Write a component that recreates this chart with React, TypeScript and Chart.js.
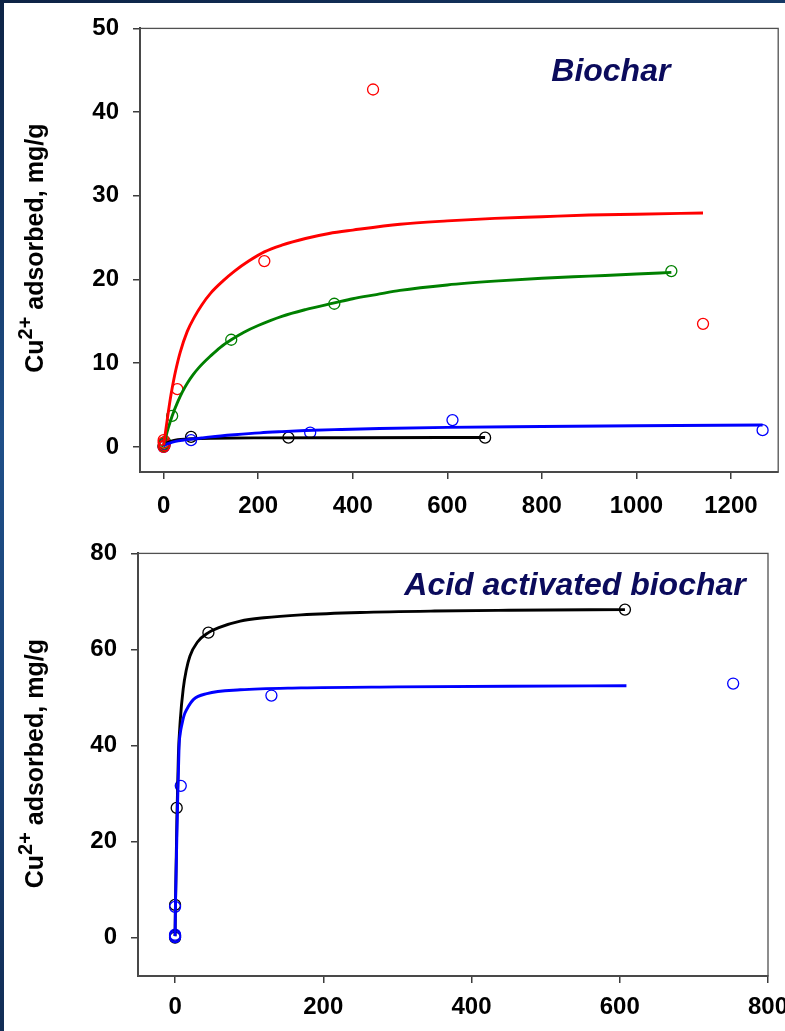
import React, { useEffect, useRef } from 'react';
import { Chart, registerables } from 'chart.js';

Chart.register(...registerables);

const FONT = '"Liberation Sans", Arial, Helvetica, sans-serif';
const INK = '#000000';
const NAVY = '#0b0b5c';
const AXIS = '#3c3c3c';

type Pt = [number, number];

// ---- Biochar: measured uptake (open circles) ----
const biocharRedObs: Pt[] = [[0, 0.0], [0, 0.5], [0, 0.8], [2, 0.2], [29, 6.9], [213, 22.2], [443, 42.7], [1141, 14.7]];
const biocharGreenObs: Pt[] = [[0, 0.1], [1, 0.4], [3, 0.6], [18, 3.7], [143, 12.8], [361, 17.1], [1074, 21.0]];
const biocharBlueObs: Pt[] = [[0, 0.0], [1, 0.1], [2, 0.3], [58, 0.8], [310, 1.7], [611, 3.2], [1267, 2.0]];
const biocharBlackObs: Pt[] = [[0, 0.1], [1, 0.2], [58, 1.2], [264, 1.1], [680, 1.1]];

// ---- Biochar: isotherm fit curves ----
const biocharRedFit: Pt[] = [[0, 0.2], [3, 1.4], [6, 2.6], [10, 4.2], [14, 5.7], [18, 7.0], [25, 9.0], [35, 11.3], [50, 13.8], [65, 15.5], [80, 16.9], [100, 18.4], [125, 19.8], [150, 21.0], [180, 22.2], [213, 23.3], [250, 24.1], [300, 24.9], [350, 25.5], [400, 25.9], [500, 26.6], [600, 27.0], [700, 27.3], [800, 27.5], [900, 27.7], [1000, 27.8], [1141, 27.95]];
const biocharGreenFit: Pt[] = [[0, 0.2], [5, 1.3], [10, 2.3], [18, 3.7], [30, 5.4], [40, 6.6], [50, 7.6], [62, 8.6], [75, 9.5], [100, 10.9], [120, 11.9], [143, 12.8], [170, 13.7], [200, 14.5], [250, 15.6], [300, 16.4], [361, 17.2], [400, 17.7], [450, 18.2], [500, 18.7], [600, 19.35], [700, 19.8], [800, 20.15], [900, 20.4], [1000, 20.65], [1074, 20.85]];
const biocharBlueFit: Pt[] = [[0, 0.1], [5, 0.3], [10, 0.4], [25, 0.65], [40, 0.8], [57, 0.92], [80, 1.07], [100, 1.2], [150, 1.45], [204, 1.68], [250, 1.82], [300, 1.95], [375, 2.08], [457, 2.2], [600, 2.33], [800, 2.43], [1000, 2.52], [1267, 2.62]];
const biocharBlackFit: Pt[] = [[0, 0.2], [5, 0.4], [10, 0.55], [20, 0.74], [30, 0.85], [45, 0.93], [60, 0.97], [100, 1.03], [200, 1.08], [400, 1.1], [680, 1.12]];

const biocharXTicks = [0, 200, 400, 600, 800, 1000, 1200];
const biocharYTicks = [0, 10, 20, 30, 40, 50];

// ---- Acid activated biochar: measured uptake ----
const acidBlackObs: Pt[] = [[0, 0.0], [0, 0.4], [0, 6.8], [2.2, 27.0], [45, 63.5], [607, 68.3]];
const acidBlueObs: Pt[] = [[0, 0.1], [0, 0.3], [0, 0.6], [0, 6.4], [7.7, 31.6], [130, 50.4], [753, 52.9]];

// ---- Acid activated biochar: isotherm fit curves ----
const acidBlackFit: Pt[] = [[0, 0.3], [0.5, 6.5], [2.5, 25], [4.5, 38], [7, 45.2], [11, 51.8], [15, 55.6], [20, 58.6], [30, 61.5], [45, 63.5], [60, 64.6], [88, 65.9], [120, 66.6], [170, 67.2], [250, 67.7], [350, 68.0], [450, 68.15], [607, 68.3]];
const acidBlueFit: Pt[] = [[0, 0.3], [0.5, 6.4], [3, 25], [5.4, 39.7], [7, 42.5], [9, 44.2], [12, 46.2], [15.7, 47.5], [25, 49.6], [43, 50.8], [88, 51.6], [170, 52.0], [300, 52.2], [450, 52.35], [609, 52.45]];

const acidXTicks = [0, 200, 400, 600, 800];
const acidYTicks = [0, 20, 40, 60, 80];

const toXY = (pts: Pt[]) => pts.map(([x, y]) => ({ x, y }));

function observed(label: string, pts: Pt[], color: string) {
  return {
    label,
    data: toXY(pts),
    showLine: false,
    pointStyle: 'circle',
    pointRadius: 5.5,
    pointHoverRadius: 5.5,
    pointBorderWidth: 1.3,
    pointBorderColor: color,
    pointBackgroundColor: 'rgba(0,0,0,0)',
  };
}

function fitted(label: string, pts: Pt[], color: string) {
  return {
    label,
    data: toXY(pts),
    showLine: true,
    borderColor: color,
    borderWidth: 2.9,
    pointRadius: 0,
    pointHoverRadius: 0,
    cubicInterpolationMode: 'monotone',
    fill: false,
  };
}

interface PanelSpec {
  datasets: any[];
  xMin: number; xMax: number; xTicks: number[];
  yMin: number; yMax: number; yTicks: number[];
  yAxisWidth: number; xAxisHeight: number;
  padTop: number; padRight: number;
  xTickPad: number;
  titleX: number; titleShift: number;
  label: { text: string; x: number; y: number; align: CanvasTextAlign };
}

function buildConfig(spec: PanelSpec): any {
  const tickFont = { family: FONT, size: 24, weight: 'bold' as const };
  const framePlugin = {
    id: 'frame',
    afterDatasetsDraw(chart: any) {
      const { ctx, chartArea: a } = chart;
      ctx.save();
      ctx.strokeStyle = '#505050';
      ctx.lineWidth = 1.3;
      ctx.strokeRect(a.left, a.top, a.right - a.left, a.bottom - a.top);
      ctx.restore();
    },
  };
  const yTitlePlugin = {
    id: 'yTitle',
    afterDraw(chart: any) {
      const { ctx, chartArea: a } = chart;
      const cy = (a.top + a.bottom) / 2 + spec.titleShift;
      ctx.save();
      ctx.translate(spec.titleX, cy);
      ctx.rotate(-Math.PI / 2);
      ctx.fillStyle = INK;
      ctx.textAlign = 'left';
      ctx.textBaseline = 'alphabetic';
      const main = `bold 25px ${FONT}`;
      const sup = `bold 20px ${FONT}`;
      ctx.font = main;
      const w1 = ctx.measureText('Cu').width;
      const w3 = ctx.measureText(' adsorbed, mg/g').width;
      ctx.font = sup;
      const w2 = ctx.measureText('2+').width;
      let x = -(w1 + w2 + w3) / 2;
      ctx.font = main;
      ctx.fillText('Cu', x, 0);
      x += w1;
      ctx.font = sup;
      ctx.fillText('2+', x, -11);
      x += w2;
      ctx.font = main;
      ctx.fillText(' adsorbed, mg/g', x, 0);
      ctx.restore();
    },
  };
  const labelPlugin = {
    id: 'panelLabel',
    afterDatasetsDraw(chart: any) {
      const { ctx, scales } = chart;
      const px = scales.x.getPixelForValue(spec.label.x);
      const py = scales.y.getPixelForValue(spec.label.y);
      ctx.save();
      ctx.font = `italic bold 32px ${FONT}`;
      ctx.fillStyle = NAVY;
      ctx.textAlign = spec.label.align;
      ctx.textBaseline = 'alphabetic';
      ctx.fillText(spec.label.text, px, py);
      ctx.restore();
    },
  };
  const grid = {
    display: true,
    drawOnChartArea: false,
    drawTicks: true,
    tickLength: 7,
    color: AXIS,
    lineWidth: 1.5,
  };
  return {
    type: 'scatter',
    data: { datasets: spec.datasets },
    options: {
      animation: false,
      responsive: false,
      devicePixelRatio: 1,
      events: [],
      layout: { padding: { top: spec.padTop, right: spec.padRight, left: 0, bottom: 0 } },
      plugins: { legend: { display: false }, tooltip: { enabled: false }, title: { display: false } },
      scales: {
        x: {
          type: 'linear',
          min: spec.xMin,
          max: spec.xMax,
          grid,
          border: { display: true, color: AXIS, width: 2 },
          ticks: { font: tickFont, color: INK, padding: spec.xTickPad, maxRotation: 0, autoSkip: false, callback: (v: any) => String(v) },
          afterBuildTicks: (s: any) => { s.ticks = spec.xTicks.map((value) => ({ value })); },
          afterFit: (s: any) => { s.height = spec.xAxisHeight; },
        },
        y: {
          type: 'linear',
          min: spec.yMin,
          max: spec.yMax,
          grid,
          border: { display: true, color: AXIS, width: 2 },
          ticks: { font: tickFont, color: INK, padding: 14, autoSkip: false, callback: (v: any) => String(v) },
          afterBuildTicks: (s: any) => { s.ticks = spec.yTicks.map((value) => ({ value })); },
          afterFit: (s: any) => { s.width = spec.yAxisWidth; },
        },
      },
    },
    plugins: [framePlugin, yTitlePlugin, labelPlugin],
  };
}

const biocharSpec: PanelSpec = {
  datasets: [
    fitted('Red fit', biocharRedFit, '#ff0000'),
    fitted('Green fit', biocharGreenFit, '#008000'),
    fitted('Blue fit', biocharBlueFit, '#0000ff'),
    fitted('Black fit', biocharBlackFit, '#000000'),
    observed('Red', biocharRedObs, '#ff0000'),
    observed('Green', biocharGreenObs, '#008000'),
    observed('Blue', biocharBlueObs, '#0000ff'),
    observed('Black', biocharBlackObs, '#000000'),
  ],
  xMin: -50, xMax: 1300, xTicks: biocharXTicks,
  yMin: -3, yMax: 50, yTicks: biocharYTicks,
  yAxisWidth: 140, xAxisHeight: 53,
  padTop: 27, padRight: 6,
  xTickPad: 13,
  titleX: 43, titleShift: -2,
  label: { text: 'Biochar', x: 946, y: 43.7, align: 'center' },
};

const acidSpec: PanelSpec = {
  datasets: [
    fitted('Blue fit', acidBlueFit, '#0000ff'),
    fitted('Black fit', acidBlackFit, '#000000'),
    observed('Blue', acidBlueObs, '#0000ff'),
    observed('Black', acidBlackObs, '#000000'),
  ],
  xMin: -50, xMax: 800, xTicks: acidXTicks,
  yMin: -8, yMax: 80, yTicks: acidYTicks,
  yAxisWidth: 138, xAxisHeight: 55,
  padTop: 16, padRight: 32,
  xTickPad: 10,
  titleX: 43, titleShift: -1,
  label: { text: 'Acid activated biochar', x: 770, y: 71.4, align: 'right' },
};

function Panel({ spec, top, width, height }: { spec: PanelSpec; top: number; width: number; height: number }) {
  const ref = useRef<HTMLCanvasElement | null>(null);
  useEffect(() => {
    if (!ref.current) return;
    const chart = new Chart(ref.current, buildConfig(spec));
    return () => chart.destroy();
  }, [spec]);
  return (
    <canvas
      ref={ref}
      width={width}
      height={height}
      style={{ position: 'absolute', left: 0, top, width, height, display: 'block' }}
    />
  );
}

export default function App() {
  return (
    <div
      style={{
        position: 'fixed',
        left: 0,
        top: 0,
        width: 785,
        height: 1031,
        overflow: 'hidden',
        background: 'linear-gradient(165deg, #0d2345 0%, #1f4f88 35%, #1a4276 60%, #0b1d3d 100%)',
      }}
    >
      <div style={{ position: 'absolute', left: 4, top: 3, right: 0, bottom: 0, background: '#ffffff' }} />
      <Panel spec={biocharSpec} top={0} width={785} height={525} />
      <Panel spec={acidSpec} top={525} width={800} height={506} />
    </div>
  );
}
